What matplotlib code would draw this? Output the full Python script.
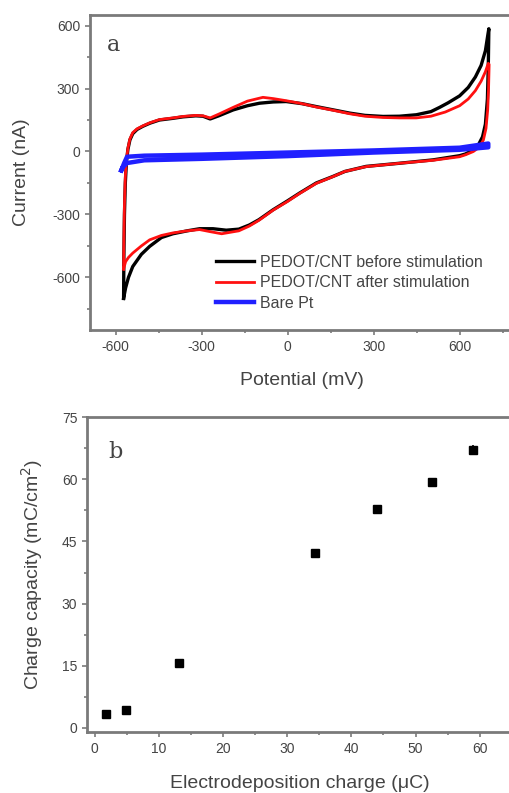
import numpy as np
import matplotlib.pyplot as plt
from matplotlib.ticker import MultipleLocator

plt.rcParams['font.family'] = ['Liberation Sans', 'DejaVu Sans']
plt.rcParams['axes.unicode_minus'] = False

# panel a: cyclic voltammograms (potential mV, current nA), closed loops
pot_before = [-572, -571, -569, -566, -562, -557, -550, -540, -525, -505, -480, -447, -400, -365,
              -320, -295, -270, -240, -190, -140, -98, -50, -5, 50, 100, 160, 216, 270, 333,
              390, 449, 500, 530, 560, 600, 630, 655, 675, 690, 699, 702,
              700, 697, 690, 680, 665, 645, 620, 600, 507, 391, 274, 200, 158, 100, 42, 0,
              -51, -100, -133, -170, -214, -260, -307, -350, -400, -440, -481, -510, -540,
              -555, -565, -572]
cur_before = [-700, -500, -300, -150, -50, 10, 55, 85, 105, 120, 135, 150, 158, 165,
              170, 168, 155, 170, 198, 218, 230, 236, 238, 228, 214, 198, 183, 172, 167,
              168, 175, 190, 210, 232, 265, 305, 355, 410, 480, 560, 585,
              400, 250, 130, 70, 30, 5, -12, -20, -40, -56, -71, -95, -119, -150, -198, -235,
              -278, -325, -350, -370, -375, -368, -368, -378, -392, -410, -452, -490, -548,
              -600, -650, -700]

pot_after = [-572, -571, -569, -566, -562, -557, -550, -540, -525, -505, -480, -447, -400, -365,
             -320, -295, -270, -240, -190, -140, -86, -50, -5, 50, 100, 160, 216, 270, 333,
             390, 449, 500, 550, 600, 630, 655, 675, 690, 700, 703,
             701, 698, 692, 683, 668, 648, 622, 600, 507, 391, 274, 200, 158, 100, 42, 0,
             -51, -100, -133, -170, -230, -270, -307, -350, -400, -440, -481, -510, -540,
             -555, -565, -572]
cur_after = [-560, -420, -250, -120, -40, 15, 60, 90, 108, 122, 137, 152, 160, 167,
             172, 170, 160, 178, 210, 240, 258, 252, 242, 228, 212, 196, 180, 168, 162,
             160, 160, 168, 188, 218, 250, 290, 335, 380, 420, 415,
             300, 200, 110, 55, 20, 0, -15, -25, -42, -56, -72, -95, -120, -152, -200, -238,
             -280, -328, -355, -378, -392, -382, -372, -378, -388, -400, -421, -450, -484,
             -505, -525, -560]

pot_pt = [-580, -570, -560, -500, -300, 0, 300, 600, 700, 700, 600, 300, 0, -300, -500, -560, -575, -580]
cur_pt = [-90, -55, -25, -20, -15, -5, 5, 18, 38, 20, 8, -5, -22, -35, -42, -55, -75, -90]

# panel b: charge capacity vs electrodeposition charge
dep_charge = [1.8, 4.8, 13.2, 34.3, 44.0, 52.6, 58.9]
capacity = [3.3, 4.3, 15.7, 42.1, 52.9, 59.3, 67.1]
capacity_err = [0.6, 0.6, 0.8, 1.2, 0.8, 1.0, 1.1]

fig = plt.figure(figsize=(5.1, 7.93), dpi=100)
spine_c = '#7a7a7a'
text_c = '#444444'


def style(ax):
    for s in ax.spines.values():
        s.set_color(spine_c)
        s.set_linewidth(2)
    ax.tick_params(which='both', direction='out', color=spine_c, width=1.2,
                   labelsize=10, labelcolor=text_c)
    ax.tick_params(which='major', length=3.5)
    ax.tick_params(which='minor', length=2)


ax1 = fig.add_axes([0.176, 0.584, 0.832, 0.397])
ax1.plot(pot_before, cur_before, color='black', lw=2.4, label='PEDOT/CNT before stimulation')
ax1.plot(pot_after, cur_after, color='#ff1010', lw=2.0, label='PEDOT/CNT after stimulation')
ax1.plot(pot_pt, cur_pt, color='#2020ff', lw=3.2, label='Bare Pt')
ax1.set_xlim(-690, 790)
ax1.set_ylim(-850, 650)
ax1.xaxis.set_major_locator(MultipleLocator(300))
ax1.xaxis.set_minor_locator(MultipleLocator(150))
ax1.yaxis.set_major_locator(MultipleLocator(300))
ax1.yaxis.set_minor_locator(MultipleLocator(150))
style(ax1)
ax1.set_xlabel('Potential (mV)', fontsize=14, color=text_c, labelpad=13)
ax1.set_ylabel('Current (nA)', fontsize=14, color=text_c, labelpad=16)
ax1.text(0.04, 0.885, 'a', transform=ax1.transAxes, fontsize=16, family='DejaVu Serif',
         color=text_c)
ax1.legend(loc='lower left', bbox_to_anchor=(0.27, 0.025), frameon=False, fontsize=11.5,
           handlelength=2.4, handletextpad=0.4, labelspacing=0.35, labelcolor=text_c,
           borderpad=0.2)

ax2 = fig.add_axes([0.1706, 0.0769, 0.833, 0.397])
ax2.errorbar(dep_charge, capacity, yerr=capacity_err, fmt='s', ms=5.5, color='black',
             ecolor='black', elinewidth=1.2, capsize=0)
ax2.set_xlim(-1.2, 65)
ax2.set_ylim(-1, 75)
ax2.xaxis.set_major_locator(MultipleLocator(10))
ax2.xaxis.set_minor_locator(MultipleLocator(5))
ax2.yaxis.set_major_locator(MultipleLocator(15))
ax2.yaxis.set_minor_locator(MultipleLocator(7.5))
style(ax2)
ax2.set_xlabel('Electrodeposition charge (\u03bcC)', fontsize=14, color=text_c, labelpad=14)
ax2.set_ylabel('Charge capacity (mC/cm$^2$)', fontsize=14, color=text_c, labelpad=12)
ax2.text(0.05, 0.87, 'b', transform=ax2.transAxes, fontsize=16, family='DejaVu Serif',
         color=text_c)

fig.savefig('out.png', dpi=100)
